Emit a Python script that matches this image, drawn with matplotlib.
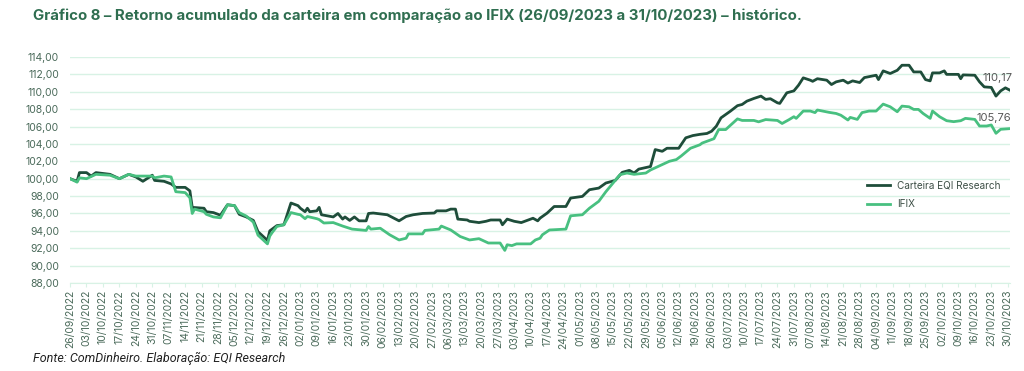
import pandas as pd
import matplotlib
matplotlib.use("Agg")
import matplotlib.pyplot as plt
import matplotlib.dates as mdates
from matplotlib.ticker import FuncFormatter

plt.rcParams['font.family'] = ['Inter', 'DejaVu Sans']

# dados: dias corridos desde 26/09/2022 e indice (base 100)
inicio = pd.Timestamp('2022-09-26')

dias_carteira = [0, 3, 4, 7, 9, 11, 17, 21, 25, 28, 31, 35, 36, 40, 43, 45, 49, 51, 52, 57,
                 58, 61, 64, 67, 70, 72, 75, 78, 80, 84, 85, 86, 88, 91, 94, 97, 98, 100, 101,
                 102, 105, 106, 107, 112, 114, 116, 117, 119, 121, 123, 126, 127, 129, 135, 140,
                 143, 146, 150, 155, 156, 160, 162, 164, 165, 169, 170, 174, 177, 179, 183, 184,
                 186, 189, 192, 197, 199, 200, 203, 206, 211, 213, 218, 221, 225, 228, 232, 235,
                 238, 240, 242, 247, 249, 252, 254, 259, 262, 265, 268, 271, 273, 275, 277, 281,
                 284, 286, 288, 291, 294, 296, 298, 301, 302, 305, 308, 310, 312, 315, 316, 318,
                 322, 324, 326, 329, 331, 333, 336, 338, 343, 344, 346, 349, 352, 354, 357, 359,
                 362, 364, 366, 367, 370, 372, 373, 378, 379, 380, 385, 387, 389, 392, 394, 396,
                 398, 400]
carteira = [100.0, 99.7, 100.7, 100.7, 100.3, 100.7, 100.5, 100.0, 100.5, 100.2, 99.7, 100.4,
            99.8, 99.7, 99.4, 99.0, 99.0, 98.6, 96.7, 96.6, 96.2, 96.1, 95.8, 97.0, 96.9, 95.9,
            95.6, 95.2, 93.9, 92.9, 94.0, 94.2, 94.6, 94.7, 97.2, 96.9, 96.6, 96.2, 96.6, 96.2,
            96.3, 96.7, 95.85, 95.6, 96.0, 95.35, 95.6, 95.2, 95.6, 95.15, 95.15, 96.0, 96.05,
            95.85, 95.15, 95.65, 95.85, 96.0, 96.05, 96.3, 96.3, 96.5, 96.5, 95.35, 95.25, 95.1,
            94.95, 95.1, 95.25, 95.25, 94.7, 95.35, 95.1, 94.95, 95.45, 95.15, 95.46, 96.04,
            96.8, 96.8, 97.77, 97.96, 98.73, 98.92, 99.5, 99.8, 100.73, 100.96, 100.65, 101.1,
            101.4, 103.35, 103.15, 103.5, 103.5, 104.7, 104.96, 105.1, 105.2, 105.46, 106.04,
            107.0, 107.77, 108.4, 108.54, 108.92, 109.23, 109.5, 109.12, 109.2, 108.73, 108.66,
            109.88, 110.1, 110.76, 111.6, 111.33, 111.2, 111.5, 111.33, 110.83, 111.14, 111.33,
            111.0, 111.25, 111.06, 111.63, 111.9, 111.4, 112.4, 112.1, 112.47, 113.05, 113.05,
            112.28, 112.28, 111.4, 111.25, 112.17, 112.17, 112.4, 112.0, 112.0, 111.5, 111.94,
            111.9, 111.14, 110.56, 110.5, 109.5, 110.1, 110.45, 110.17]

dias_ifix = [0, 3, 4, 7, 11, 17, 21, 25, 28, 35, 36, 40, 43, 45, 49, 51, 52, 53, 57, 58, 61,
             64, 67, 70, 72, 75, 78, 80, 84, 85, 86, 88, 91, 94, 97, 98, 100, 101, 105, 106,
             108, 112, 116, 120, 126, 127, 128, 132, 136, 140, 143, 144, 150, 151, 157, 158,
             162, 166, 170, 174, 178, 183, 185, 186, 188, 190, 196, 198, 200, 201, 204, 211,
             213, 218, 221, 225, 228, 234, 237, 240, 245, 247, 251, 255, 258, 260, 264, 268,
             269, 274, 276, 279, 284, 286, 291, 293, 296, 301, 303, 306, 308, 309, 312, 315,
             317, 318, 323, 326, 328, 331, 332, 335, 337, 340, 343, 346, 349, 352, 354, 357,
             359, 361, 363, 366, 367, 370, 373, 376, 379, 381, 385, 387, 390, 392, 394, 396,
             398, 400]
ifix = [100.0, 99.6, 100.1, 100.0, 100.5, 100.4, 100.0, 100.5, 100.3, 100.3, 100.1, 100.3,
        100.2, 98.5, 98.4, 97.8, 96.0, 96.5, 96.2, 95.9, 95.6, 95.5, 97.0, 96.9, 96.1, 95.7,
        95.0, 93.5, 92.5, 93.4, 93.8, 94.5, 94.7, 96.1, 95.9, 95.85, 95.4, 95.65, 95.4, 95.3,
        94.9, 94.95, 94.55, 94.2, 94.05, 94.5, 94.2, 94.3, 93.55, 92.95, 93.15, 93.65, 93.65,
        94.05, 94.2, 94.55, 94.1, 93.35, 92.95, 93.1, 92.6, 92.6, 91.75, 92.4, 92.3, 92.5,
        92.5, 92.95, 93.15, 93.55, 94.1, 94.2, 95.73, 95.85, 96.6, 97.4, 98.5, 100.46, 100.65,
        100.5, 100.65, 101.0, 101.5, 102.0, 102.2, 102.6, 103.5, 103.9, 104.1, 104.6, 105.65,
        105.65, 106.88, 106.7, 106.7, 106.54, 106.8, 106.7, 106.35, 106.8, 107.13, 106.94,
        107.78, 107.78, 107.6, 107.9, 107.63, 107.5, 107.3, 106.75, 107.05, 106.82, 107.6,
        107.78, 107.78, 108.58, 108.27, 107.7, 108.35, 108.27, 107.97, 107.97, 107.5, 106.94,
        107.78, 107.13, 106.67, 106.56, 106.67, 106.94, 106.82, 106.06, 106.06, 106.18, 105.22,
        105.68, 105.72, 105.76]

datas_carteira = inicio + pd.to_timedelta(dias_carteira, unit='D')
datas_ifix = inicio + pd.to_timedelta(dias_ifix, unit='D')
ticks_semanais = pd.date_range('2022-09-26', '2023-10-30', freq='7D')

cor_escura = '#1e4d3a'
cor_clara = '#48c080'
cor_texto = '#4a6a5a'

fig = plt.figure(figsize=(10.24, 3.71), dpi=100)
ax = fig.add_axes([0.0684, 0.2372, 0.918, 0.6092])

ax.plot(datas_carteira, carteira, color=cor_escura, lw=2, label='Carteira EQI Research')
ax.plot(datas_ifix, ifix, color=cor_clara, lw=2, label='IFIX')

ax.set_ylim(88, 114)
ax.set_yticks(range(88, 115, 2))
ax.yaxis.set_major_formatter(FuncFormatter(lambda v, p: f'{v:.2f}'.replace('.', ',')))
ax.set_xlim(inicio, inicio + pd.Timedelta(days=400))
ax.set_xticks(ticks_semanais)
ax.xaxis.set_major_formatter(mdates.DateFormatter('%d/%m/%Y'))
plt.setp(ax.get_xticklabels(), rotation=90)

ax.grid(axis='y', color='#d8f2e5', lw=1)
ax.set_axisbelow(True)
for s in ['top', 'right', 'left']:
    ax.spines[s].set_visible(False)
ax.spines['bottom'].set_color('#d8f2e5')
ax.tick_params(axis='y', length=0, labelsize=7.5, labelcolor=cor_texto, pad=8)
ax.tick_params(axis='x', length=3, color='#d8f2e5', labelsize=7.5, labelcolor=cor_texto, pad=2)

# rotulos finais
ax.annotate(f'{carteira[-1]:.2f}'.replace('.', ','), (datas_carteira[-1], carteira[-1]),
            xytext=(-9, 5), textcoords='offset points', ha='center', va='bottom',
            fontsize=8, color='#555555')
ax.annotate(f'{ifix[-1]:.2f}'.replace('.', ','), (datas_ifix[-1], ifix[-1]),
            xytext=(-12, 4), textcoords='offset points', ha='center', va='bottom',
            fontsize=8, color='#555555')

leg = ax.legend(loc='center left', bbox_to_anchor=(0.838, 0.39), frameon=False,
                fontsize=7.2, handlelength=2.3, handletextpad=0.7, labelspacing=0.9)
for t in leg.get_texts():
    t.set_color('#3d4f46')

fig.text(0.032, 0.957, 'Gráfico 8 – Retorno acumulado da carteira em comparação ao IFIX '
         '(26/09/2023 a 31/10/2023) – histórico.', fontsize=10.8, fontweight='bold',
         color='#2f6e50', va='center')
fig.text(0.032, 0.035, 'Fonte: ComDinheiro. Elaboração: EQI Research', fontsize=9,
         style='italic', family=['Roboto', 'DejaVu Sans'], color='#222222', va='center')

fig.savefig('out.png', dpi=100)
